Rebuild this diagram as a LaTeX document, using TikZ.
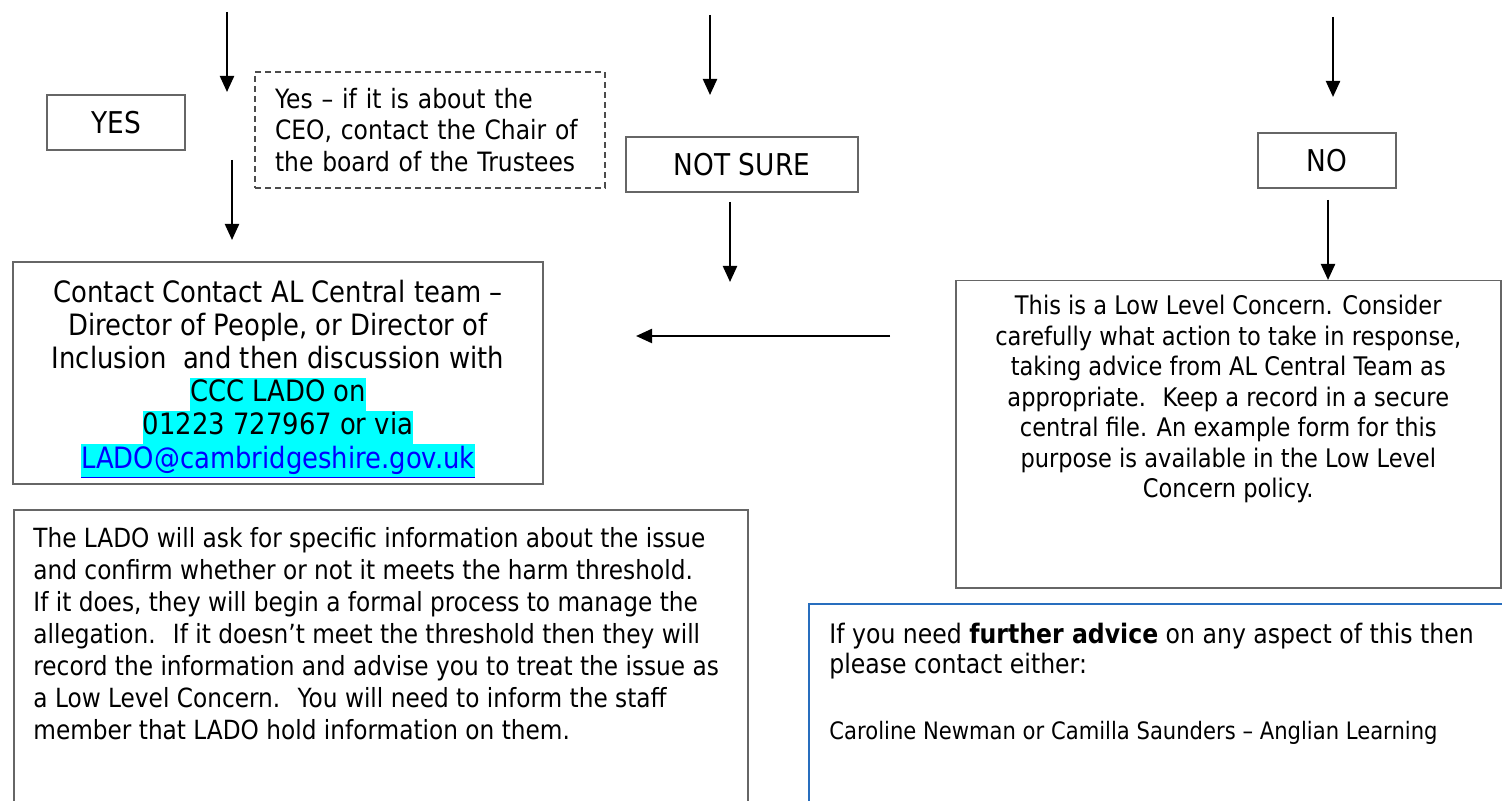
\documentclass[tikz,border=0pt]{standalone}
\usepackage{fontspec}
\setmainfont{DejaVu Sans}[FakeStretch=0.88]
\usetikzlibrary{positioning,arrows.meta}
\definecolor{adviceblue}{RGB}{40,110,190}
\definecolor{markcyan}{RGB}{0,255,255}
\definecolor{linkblue}{RGB}{0,0,255}
\newcommand{\marked}[1]{{\setlength{\fboxsep}{0pt}\colorbox{markcyan}{\rule[-4.6pt]{0pt}{16.6pt}#1}}}
\tikzset{
  answer box/.style={
    draw=black!60,
    line width=0.75pt,
    fill=white,
    minimum width={#1},
    minimum height={27.5pt},
    font=\fontsize{15}{18}\selectfont,
  },
  frame box/.style={
    draw=black!60,
    line width=0.75pt,
    inner sep=0pt,
  },
  note box/.style={
    draw=black!70,
    line width=0.75pt,
    dash pattern=on 3pt off 2pt,
    minimum width={175pt},
    minimum height={58pt},
    text width={155pt},
    align=left,
    inner sep=0pt,
    font=\fontsize{13.3}{15.75}\selectfont,
  },
  body text/.style={
    inner sep=0pt,
    font=\fontsize{#1}{#1}\selectfont,
  },
  flow/.style={
    -{Triangle[length=8pt,width=7pt]},
    line width=1.1pt,
  }
}
\begin{document}
\begin{tikzpicture}[x=0.5pt, y=-0.5pt, node distance=0pt]
        \useasboundingbox (0,0) rectangle (1502,801);
        \clip (0,0) rectangle (1502,801);

        \node [answer box=69pt] (yes) at (116,122.5) {YES};
        \node [note box] (ceo) at (430,130) {Yes – if it is about the\\ CEO, contact the Chair of\\ the board of the Trustees};
        \node [answer box=116pt] (notsure) at (742,164.5) {NOT SURE};
        \node [answer box=69pt] (no) at (1327,160.5) {NO};

        \node [frame box, minimum width=265pt, minimum height=111pt] (contact) at (278,373) {};
        \node [body text=14.7, align=center, font=\fontsize{14.7}{16.6}\selectfont]
              (contacttext) at ([yshift=-3pt]contact.center)
              {Contact Contact AL Central team –\\ Director of People, or Director of\\
               Inclusion~ and then discussion with\\ \marked{CCC LADO on}\\
               \marked{01223 727967 or via}\\
               \marked{\color{linkblue}\underline{LADO@cambridgeshire.gov.uk}}};

        \node [frame box, anchor=north west, minimum width=272.5pt, minimum height=153.5pt] (lowlevel) at (955,280) {};
        \node [body text=12.8, align=center, font=\fontsize{12.8}{15.25}\selectfont,
               below=7.4pt of lowlevel.north] (lowleveltext)
              {This is a Low Level Concern. Consider\\ carefully what action to take in response,\\
               taking advice from AL Central Team as\\ appropriate.~ Keep a record in a secure\\
               central file. An example form for this\\ purpose is available in the Low Level\\
               Concern policy.};

        \node [frame box, anchor=north west, minimum width=367pt, minimum height=160pt] (lado) at (13,509) {};
        \node [body text=13.2, align=left, font=\fontsize{13.2}{16}\selectfont,
               below right=8.8pt and 10pt of lado.north west] (ladotext)
              {The LADO will ask for specific information about the issue\\
               and confirm whether or not it meets the harm threshold.\\
               If it does, they will begin a formal process to manage the\\
               allegation.~ If it doesn’t meet the threshold then they will\\
               record the information and advise you to treat the issue as\\
               a Low Level Concern.~ You will need to inform the staff\\
               member that LADO hold information on them.};

        \node [frame box, draw=adviceblue, anchor=north west, minimum width=350pt, minimum height=110pt] (advice) at (808,603) {};
        \node [body text=13.4, align=left, font=\fontsize{13.4}{15}\selectfont,
               below right=9.7pt and 10.5pt of advice.north west] (advicetext)
              {If you need \textbf{further advice} on any aspect of this then\\ please contact either:};
        \node [body text=12, below=20.7pt of advicetext.south west, anchor=north west] (contacts)
              {Caroline Newman or Camilla Saunders – Anglian Learning};

        \coordinate (yes from) at (227,12);
        \coordinate (yes to) at (227,92);
        \coordinate (contact from) at (232,160);
        \coordinate (contact to) at (232,240);
        \coordinate (notsure from) at (710,15);
        \coordinate (notsure to) at (710,95);
        \coordinate (back from) at (730,202);
        \coordinate (back to) at (730,282);
        \coordinate (no from) at (1333,17);
        \coordinate (no to) at (1333,97);
        \coordinate (lowlevel from) at (1328,200);
        \coordinate (left from) at (890,336);
        \coordinate (left to) at (636,336);

        \draw [flow] (yes from) -- (yes to);
        \draw [flow] (contact from) -- (contact to);
        \draw [flow] (notsure from) -- (notsure to);
        \draw [flow] (back from) -- (back to);
        \draw [flow] (no from) -- (no to);
        \draw [flow] (lowlevel from) -- (lowlevel.north -| lowlevel from);
        \draw [flow] (left from) -- (left to);
    \end{tikzpicture}
\end{document}
